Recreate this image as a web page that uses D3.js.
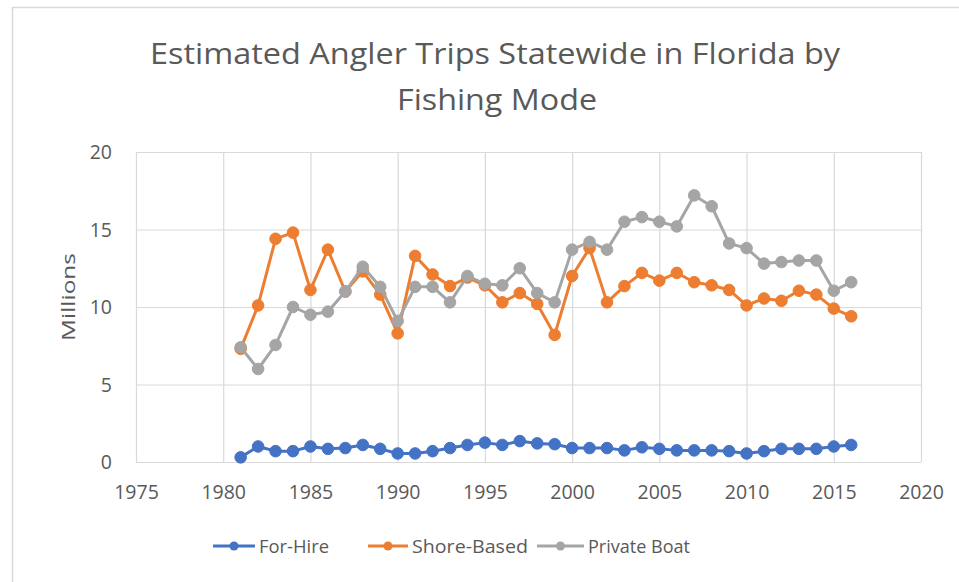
<!DOCTYPE html>
<html><head><meta charset="utf-8">
<script src="https://cdn.jsdelivr.net/npm/d3@7"></script>
<style>body{margin:0;background:#fff}svg{display:block}text{font-family:'Open Sans',sans-serif;fill:#595959}</style>
</head><body><svg id="c" width="959" height="582"></svg>
<script>
const years = d3.range(1981, 2017);
const forHire = [0.3,1.0,0.7,0.7,1.0,0.85,0.9,1.1,0.85,0.55,0.55,0.7,0.9,1.1,1.25,1.1,1.35,1.2,1.15,0.9,0.9,0.9,0.75,0.95,0.85,0.75,0.75,0.75,0.7,0.55,0.7,0.85,0.85,0.85,1.0,1.1];
const shoreBased = [7.3,10.1,14.4,14.8,11.1,13.7,11.0,12.3,10.8,8.3,13.3,12.1,11.35,11.9,11.4,10.3,10.9,10.2,8.2,12.0,13.8,10.3,11.35,12.2,11.7,12.2,11.6,11.4,11.1,10.1,10.55,10.4,11.05,10.8,9.9,9.4];
const privateBoat = [7.4,6.0,7.55,10.0,9.5,9.7,11.0,12.6,11.3,9.1,11.3,11.3,10.3,12.0,11.5,11.4,12.5,10.9,10.3,13.7,14.2,13.7,15.5,15.8,15.5,15.2,17.2,16.5,14.1,13.8,12.8,12.9,13.0,13.0,11.05,11.6];
const xTicks = [1975,1980,1985,1990,1995,2000,2005,2010,2015,2020];
const yTicks = [0,5,10,15,20];
const seriesNames = ["For-Hire","Shore-Based","Private Boat"];
const seriesColors = ["#4472C4","#ED7D31","#A5A5A5"];
const seriesData = [forHire, shoreBased, privateBoat];

const svg = d3.select("#c");
// outer chart border
svg.append("rect").attr("x",12.5).attr("y",7.5).attr("width",960).attr("height",600)
  .attr("fill","none").attr("stroke","#d9d9d9").attr("stroke-width",1.5);

const x = d3.scaleLinear().domain([1975,2020]).range([136,921]);
const y = d3.scaleLinear().domain([0,20]).range([462,152]);

// gridlines
svg.append("g").selectAll("line").data(yTicks).join("line")
  .attr("x1",x(1975)).attr("x2",x(2020)).attr("y1",d=>y(d)+0.5).attr("y2",d=>y(d)+0.5)
  .attr("stroke","#d9d9d9").attr("stroke-width",1.2);
svg.append("g").selectAll("line").data(xTicks).join("line")
  .attr("y1",y(0)).attr("y2",y(20)).attr("x1",d=>x(d)+0.5).attr("x2",d=>x(d)+0.5)
  .attr("stroke","#d9d9d9").attr("stroke-width",1.2);

// axes labels via d3 axes
const xAxis = svg.append("g").attr("transform",`translate(0,${y(0)})`)
  .call(d3.axisBottom(x).tickValues(xTicks).tickFormat(d3.format("d")).tickSize(0).tickPadding(23));
xAxis.select(".domain").remove();
xAxis.selectAll("text").style("font-size","19.5px").attr("fill","#595959").attr("font-family","'Open Sans',sans-serif");
const yAxis = svg.append("g").attr("transform",`translate(${x(1975)},0)`)
  .call(d3.axisLeft(y).tickValues(yTicks).tickSize(0).tickPadding(24));
yAxis.select(".domain").remove();
yAxis.selectAll("text").style("font-size","19.5px").attr("fill","#595959").attr("font-family","'Open Sans',sans-serif").attr("dy","0.35em");

// title
svg.append("text").attr("x",495).attr("y",64).attr("text-anchor","middle")
  .style("font-size","29px").attr("textLength",690).attr("lengthAdjust","spacingAndGlyphs")
  .text("Estimated Angler Trips Statewide in Florida by");
svg.append("text").attr("x",497).attr("y",110).attr("text-anchor","middle")
  .style("font-size","29px").attr("textLength",200).attr("lengthAdjust","spacingAndGlyphs")
  .text("Fishing Mode");

// y axis title
svg.append("text").attr("transform","translate(75,297) rotate(-90)").attr("text-anchor","middle")
  .style("font-size","19px").attr("textLength",88).attr("lengthAdjust","spacingAndGlyphs").text("Millions");

// series
const line = d3.line().x((d,i)=>x(years[i])).y(d=>y(d));
seriesData.forEach((data,k)=>{
  const g = svg.append("g");
  g.append("path").datum(data).attr("d",line).attr("fill","none")
    .attr("stroke",seriesColors[k]).attr("stroke-width",3).attr("stroke-linejoin","round");
  g.selectAll("circle").data(data).join("circle")
    .attr("cx",(d,i)=>x(years[i])).attr("cy",d=>y(d)).attr("r",5.8)
    .attr("fill",seriesColors[k]).attr("stroke",seriesColors[k]).attr("stroke-width",1);
});

// legend
const legX = [213,368,537];
const legLen = [42,40,47];
const legTextLen = [70,116,102];
seriesNames.forEach((n,k)=>{
  const g = svg.append("g");
  g.append("line").attr("x1",legX[k]).attr("x2",legX[k]+legLen[k]).attr("y1",546).attr("y2",546)
    .attr("stroke",seriesColors[k]).attr("stroke-width",3);
  g.append("circle").attr("cx",legX[k]+legLen[k]/2).attr("cy",546).attr("r",4.5).attr("fill",seriesColors[k]);
  g.append("text").attr("x",legX[k]+legLen[k]+4).attr("y",546).attr("dy","0.35em")
    .style("font-size","19px").attr("textLength",legTextLen[k]).attr("lengthAdjust","spacingAndGlyphs").text(n);
});
</script></body></html>
